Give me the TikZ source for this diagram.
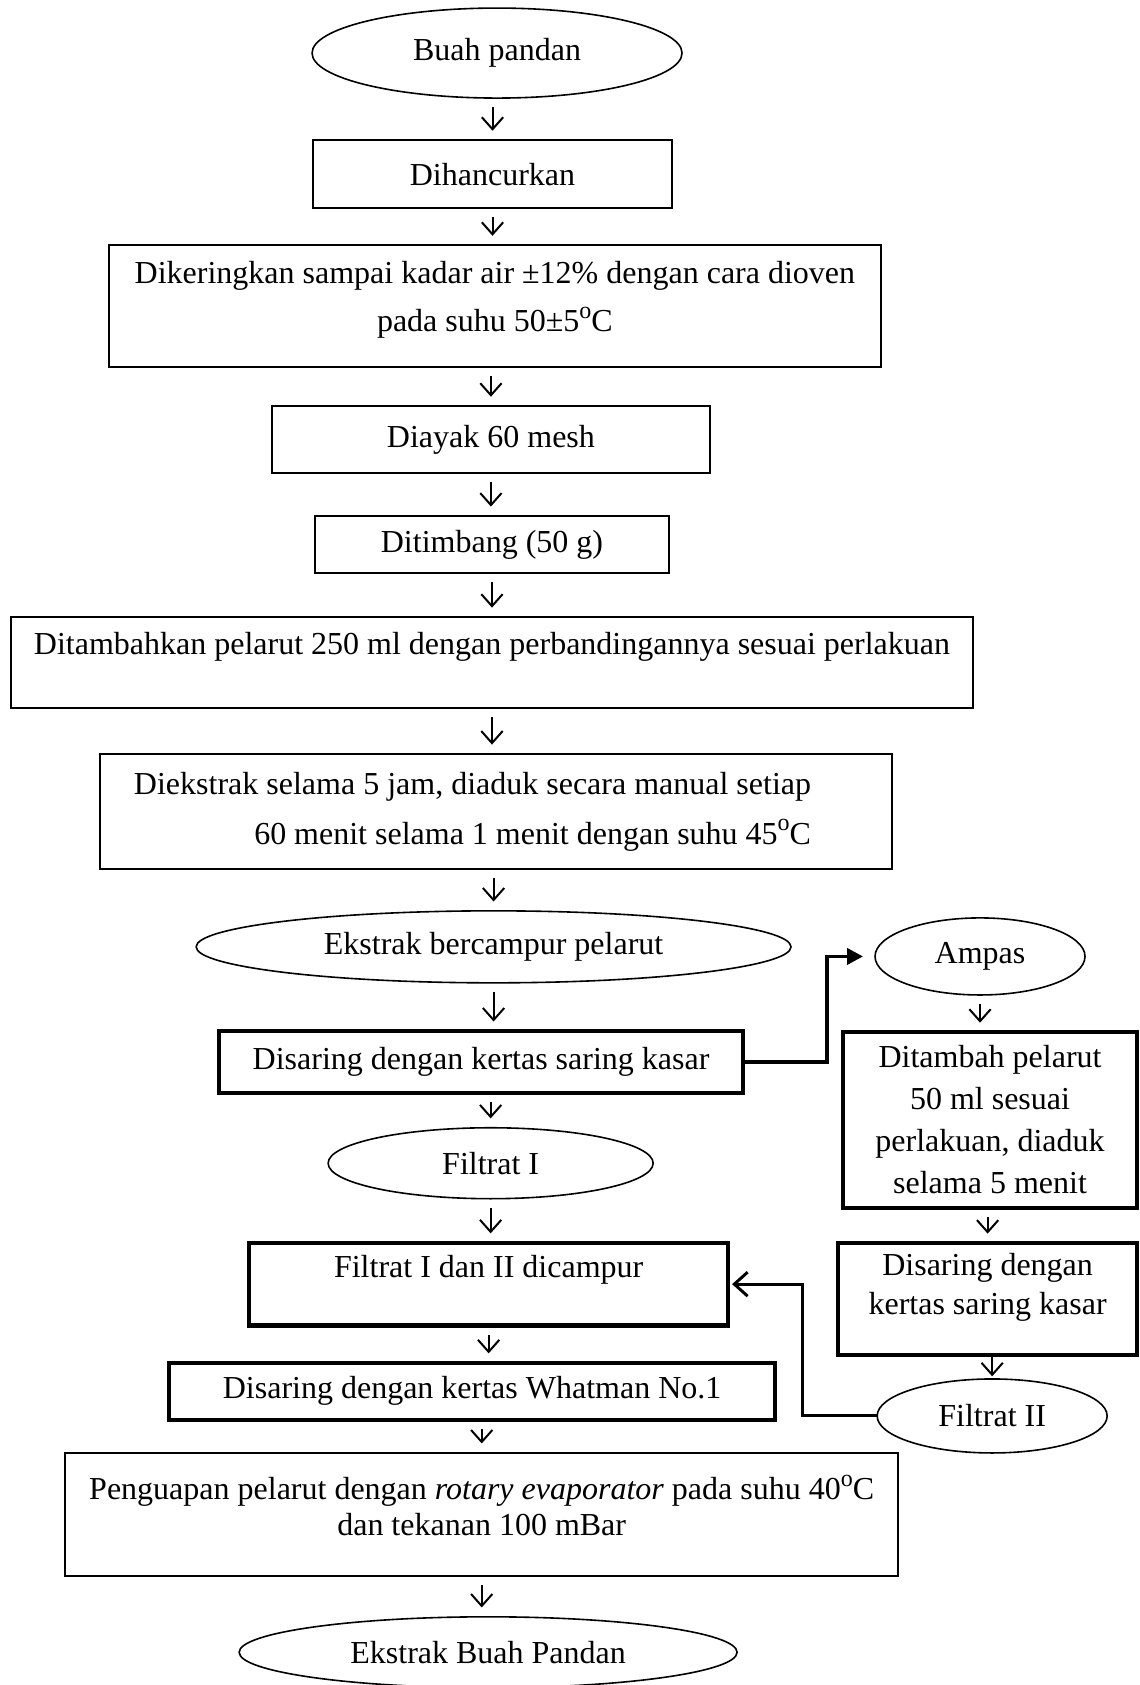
\documentclass[tikz,border=0pt]{standalone}
\usepackage{fontspec}
\setmainfont{Liberation Serif}
\usetikzlibrary{positioning,arrows.meta,shapes.geometric}

\newcommand{\dego}{\raisebox{0.9ex}{\fontsize{9}{9}\selectfont o}}

\tikzset{
  box/.style={draw, line width=0.75pt, align=center, inner sep=2pt, outer sep=0pt, font=\fontsize{12}{14}\selectfont},
  boldbox/.style={box, line width=1.6pt},
  oval/.style={draw, ellipse, line width=0.6pt, inner sep=0pt, outer sep=0pt, font=\fontsize{12}{14}\selectfont},
  down/.style={-{Straight Barb[length=4.5pt,width=8pt]}, line width=0.75pt, shorten <=3.5pt, shorten >=3.5pt},
  side/.style={-{Triangle[length=6pt,width=6pt]}, line width=1.4pt, shorten >=4.5pt},
  back/.style={-{Straight Barb[length=5pt,width=9pt]}, line width=1.1pt, shorten >=1.5pt},
}

\begin{document}
\begin{tikzpicture}
	\useasboundingbox (0,0) rectangle (427.5pt,-631.9pt);

	% main column
	\node(fruit)[oval, minimum width=138.75pt, minimum height=33.75pt] at (186.4pt,-19.9pt) {Buah pandan};
	\node(crush)[box, minimum width=134.6pt, minimum height=25.5pt, below=15.75pt of fruit, xshift=-1.7pt] {Dihancurkan};
	\node(dry)[box, minimum width=289.5pt, minimum height=45.75pt, below=13.9pt of crush, xshift=0.9pt, font=\fontsize{12}{18}\selectfont, text depth=7.5pt] {Dikeringkan sampai kadar air ±12\% dengan cara dioven\\ pada suhu 50±5\dego C};
	\node(sieve)[box, minimum width=164.25pt, minimum height=25.1pt, below=14.6pt of dry, xshift=-1.5pt] {Diayak 60 mesh};
	\node(weigh)[box, minimum width=132.75pt, minimum height=21.4pt, below=16.1pt of sieve, xshift=0.4pt] {Ditimbang (50 g)};
	\node(solvent)[box, minimum width=360.75pt, minimum height=34.1pt, below=16.5pt of weigh, text depth=14pt] {Ditambahkan pelarut 250 ml dengan perbandingannya sesuai perlakuan};
	\node(extract)[box, minimum width=297pt, minimum height=43.1pt, below=17.25pt of solvent, xshift=1.5pt, align=right, font=\fontsize{12}{18.75}\selectfont] {Diekstrak selama 5 jam, diaduk secara manual setiap\hspace*{17.6pt}\\ 60 menit selama 1 menit dengan suhu 45\dego C\hspace*{17.6pt}};
	\node(mixture)[oval, minimum width=223.1pt, minimum height=27pt, below=15.75pt of extract, xshift=-0.9pt] {Ekstrak bercampur pelarut};
	\node(filter1)[boldbox, minimum width=196.5pt, minimum height=23.25pt, below=18pt of mixture, xshift=-4.7pt] {Disaring dengan kertas saring kasar};
	\node(filtrate1)[oval, minimum width=121.9pt, minimum height=26.6pt, below=13.1pt of filter1, xshift=3.6pt] {Filtrat I};
	\node(combine)[boldbox, minimum width=179.6pt, minimum height=31.1pt, below=16.5pt of filtrate1, xshift=-0.75pt, text depth=13.4pt] {Filtrat I dan II dicampur};
	\node(whatman)[boldbox, minimum width=227.25pt, minimum height=21.4pt, below=13.9pt of combine, xshift=-6.2pt] {Disaring dengan kertas Whatman No.1};
	\node(evap)[box, minimum width=312.4pt, minimum height=46.1pt, below=12.4pt of whatman, xshift=3.6pt, font=\fontsize{12}{13.5}\selectfont, text depth=6.5pt] {Penguapan pelarut dengan \textit{rotary evaporator} pada suhu 40\dego C\\ dan tekanan 100 mBar};
	\node(product)[oval, minimum width=186.75pt, minimum height=26.6pt, below=15.4pt of evap, xshift=2.4pt] {Ekstrak Buah Pandan};

	% side branch
	\node(residue)[oval, minimum width=78.75pt, minimum height=28.9pt, right=31.5pt of mixture, yshift=-3.6pt] {Ampas};
	\node(resolvent)[boldbox, minimum width=110.25pt, minimum height=66pt, below=13.9pt of residue, xshift=3.75pt, font=\fontsize{12}{15.75}\selectfont] {Ditambah pelarut\\ 50 ml sesuai\\ perlakuan, diaduk\\ selama 5 menit};
	\node(filter2)[boldbox, minimum width=112.1pt, minimum height=42pt, below=13.1pt of resolvent, xshift=-0.9pt, font=\fontsize{12}{14.6}\selectfont, text depth=11.2pt] {Disaring dengan\\ kertas saring kasar};
	\node(filtrate2)[oval, minimum width=86.25pt, minimum height=27.75pt, below=9pt of filter2, xshift=1.7pt] {Filtrat II};

	\path (crush |- fruit.south) edge[down] (crush);
	\path (crush) edge[down] (crush |- dry.north);
	\path (sieve |- dry.south) edge[down] (sieve);
	\path (sieve) edge[down] (sieve |- weigh.north);
	\path (weigh) edge[down] (weigh |- solvent.north);
	\path (solvent) edge[down] (solvent |- extract.north);
	\path (mixture |- extract.south) edge[down] (mixture);
	\path (mixture) edge[down] (mixture |- filter1.north);
	\path (filtrate1 |- filter1.south) edge[down] (filtrate1);
	\path (filtrate1) edge[down] (filtrate1 |- combine.north);
	\path (combine) edge[down] (combine |- whatman.north);
	\path (evap |- whatman.south) edge[down] (evap);
	\path (evap) edge[down] (evap |- product.north);

	\path (residue) edge[down] (residue |- resolvent.north);
	\path (filter2 |- resolvent.south) edge[down] (filter2);
	\path (filtrate2 |- filter2.south) edge[down, shorten <=0pt, shorten >=1pt] (filtrate2);

	\draw[side] (filter1.east) -- ++(31.5pt,0) |- (residue.west);
	\draw[back] (filtrate2.west) -- ++(-28.1pt,0) |- (combine.east);
\end{tikzpicture}
\end{document}
